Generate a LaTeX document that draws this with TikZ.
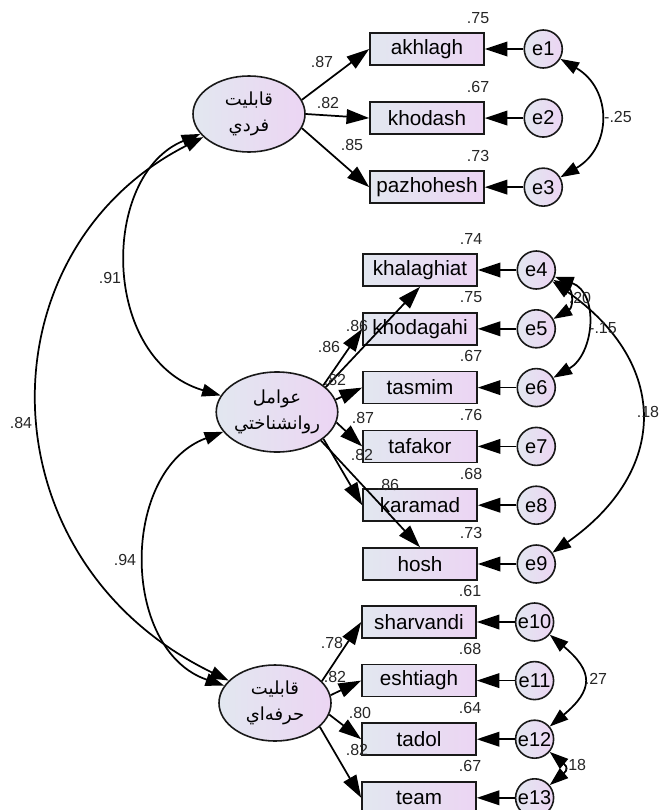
\documentclass[tikz,border=0pt]{standalone}
\usepackage{fontspec}
\setmainfont{Liberation Sans}
\newfontfamily\arabicfont[Script=Arabic]{DejaVu Sans}
\TeXXeTstate=1
\usepackage{xcolor}
\definecolor{fill_left}{RGB}{226,231,240}
\definecolor{fill_right}{RGB}{236,213,243}
\definecolor{edge_gray}{RGB}{25,25,25}
\usepackage{tikz}
\usetikzlibrary{positioning, shapes.geometric, arrows.meta}
\tikzstyle{latent} = [ellipse, draw=edge_gray, line width=1.2pt, left color=fill_left, right color=fill_right,
                    minimum width=84pt, minimum height=57pt, inner sep=0pt, align=center,
                    font=\arabicfont\fontsize{13.5pt}{19pt}\selectfont]
\tikzstyle{observed} = [rectangle, draw=edge_gray, line width=1.2pt, left color=fill_left, right color=fill_right,
                    minimum width=85.5pt, minimum height=24pt, inner sep=0pt, font=\fontsize{15.5pt}{18pt}\selectfont]
\tikzstyle{error} = [circle, draw=edge_gray, line width=1.2pt, left color=fill_left, right color=fill_right,
                    minimum size=28.5pt, inner sep=0pt, font=\fontsize{15pt}{18pt}\selectfont]
\tikzstyle{coef} = [inner sep=0pt, text=black!85, font=\fontsize{12pt}{14pt}\selectfont]
\tikzstyle{arrow} = [line width=1.3pt, black, -{Triangle[length=17pt,width=11pt]}]
\tikzstyle{covar} = [line width=1.3pt, black, {Triangle[length=14pt,width=9.5pt]}-{Triangle[length=14pt,width=9.5pt]}]

\begin{document}
\begin{tikzpicture}[x=0.75pt, y=-0.75pt]

    \useasboundingbox (0,0) rectangle (663,810);

    % latent variables
    \node[latent] (fardi) at (249,114) {\beginR قابليت\endR\\\beginR فردي\endR};
    \node[latent, minimum height=60pt] (ravan) at (277,412) {\beginR عوامل\endR\\\beginR روانشناختي\endR};
    \node[latent] (herfe) at (275,703) {\beginR قابليت\endR\\\beginR حرفه‌اي\endR};

    % observed variables
    \node[observed] (akhlagh) at (427,49) {akhlagh};
    \node[observed] (khodash) [below=26.6pt of akhlagh] {khodash};
    \node[observed] (pazhohesh) [below=26.6pt of khodash] {pazhohesh};

    \node[observed] (khalaghiat) at (420,270) {khalaghiat};
    \node[observed] (khodagahi) [below=18.9pt of khalaghiat] {khodagahi};
    \node[observed] (tasmim) [below=18.9pt of khodagahi] {tasmim};
    \node[observed] (tafakor) [below=18.9pt of tasmim] {tafakor};
    \node[observed] (karamad) [below=18.9pt of tafakor] {karamad};
    \node[observed] (hosh) [below=18.9pt of karamad] {hosh};

    \node[observed] (sharvandi) at (419,622) {sharvandi};
    \node[observed] (eshtiagh) [below=18.75pt of sharvandi] {eshtiagh};
    \node[observed] (tadol) [below=18.75pt of eshtiagh] {tadol};
    \node[observed] (team) [below=18.75pt of tadol] {team};

    % error terms
    \node[error] (e1) [right=29pt of akhlagh] {e1};
    \node[error] (e2) [right=29pt of khodash] {e2};
    \node[error] (e3) [right=29pt of pazhohesh] {e3};
    \node[error] (e4) [right=29pt of khalaghiat] {e4};
    \node[error] (e5) [right=29pt of khodagahi] {e5};
    \node[error] (e6) [right=29pt of tasmim] {e6};
    \node[error] (e7) [right=29pt of tafakor] {e7};
    \node[error] (e8) [right=29pt of karamad] {e8};
    \node[error] (e9) [right=29pt of hosh] {e9};
    \node[error] (e10) [right=28.5pt of sharvandi] {e10};
    \node[error] (e11) [right=28.5pt of eshtiagh] {e11};
    \node[error] (e12) [right=28.5pt of tadol] {e12};
    \node[error] (e13) [right=28.5pt of team] {e13};

    % squared multiple correlations
    \node[coef] (r1) [above left=6.5pt and -3.5pt of akhlagh.north east] {.75};
    \node[coef] (r2) [above left=6.5pt and -3.5pt of khodash.north east] {.67};
    \node[coef] (r3) [above left=6.5pt and -3.5pt of pazhohesh.north east] {.73};
    \node[coef] (r4) [above left=6.5pt and -3.5pt of khalaghiat.north east] {.74};
    \node[coef] (r5) [above left=6.5pt and -3.5pt of khodagahi.north east] {.75};
    \node[coef] (r6) [above left=6.5pt and -3.5pt of tasmim.north east] {.67};
    \node[coef] (r7) [above left=6.5pt and -3.5pt of tafakor.north east] {.76};
    \node[coef] (r8) [above left=6.5pt and -3.5pt of karamad.north east] {.68};
    \node[coef] (r9) [above left=6.5pt and -3.5pt of hosh.north east] {.73};
    \node[coef] (r10) [above left=6.5pt and -3.5pt of sharvandi.north east] {.61};
    \node[coef] (r11) [above left=6.5pt and -3.5pt of eshtiagh.north east] {.68};
    \node[coef] (r12) [above left=6.5pt and -3.5pt of tadol.north east] {.64};
    \node[coef] (r13) [above left=6.5pt and -3.5pt of team.north east] {.67};

    % errors to indicators
    \foreach \e/\v in {e1/akhlagh, e2/khodash, e3/pazhohesh, e4/khalaghiat, e5/khodagahi, e6/tasmim,
                       e7/tafakor, e8/karamad, e9/hosh, e10/sharvandi, e11/eshtiagh, e12/tadol, e13/team}
        \draw[arrow] (\e) to (\v);

    % loadings
    \draw[arrow] (fardi.15) to (akhlagh.west);
    \draw[arrow] (fardi.east) to (khodash.west);
    \draw[arrow] (fardi.-15) to (pazhohesh.west);

    \draw[arrow] (ravan.27) to (khalaghiat.south);
    \draw[arrow] (ravan.30) to (khodagahi.west);
    \draw[arrow] (ravan.12) to (tasmim.west);
    \draw[arrow] (ravan.-10) to (tafakor.west);
    \draw[arrow] (ravan.-30) to (karamad.west);
    \draw[arrow] (ravan.-33) to (hosh.north);

    \draw[arrow] (herfe.25) to (sharvandi.west);
    \draw[arrow] (herfe.8) to (eshtiagh.west);
    \draw[arrow] (herfe.-12) to (tadol.west);
    \draw[arrow] (herfe.-28) to (team.west);

    \node[coef] (l1) at (322,62) {.87};
    \node[coef] (l2) at (328,103) {.82};
    \node[coef] (l3) at (352,145) {.85};
    \node[coef] (l4) at (357,326) {.86};
    \node[coef] (l5) at (329,347) {.86};
    \node[coef] (l6) at (335,380) {.82};
    \node[coef] (l7) at (363,418) {.87};
    \node[coef] (l8) at (362,455) {.82};
    \node[coef] (l9) at (388,485) {.86};
    \node[coef] (l10) at (332,643) {.78};
    \node[coef] (l11) at (335,677) {.82};
    \node[coef] (l12) at (360,713) {.80};
    \node[coef] (l13) at (357,750) {.82};

    % correlations between factors
    \draw[covar] (fardi) .. controls (-20,250) and (-20,560) .. (herfe);
    \draw[covar] (fardi) .. controls (100,175) and (100,360) .. (ravan);
    \draw[covar] (ravan) .. controls (120,470) and (120,650) .. (herfe);
    \node[coef] (k1) at (110,278) {.91};
    \node[coef] (k2) at (21,423) {.84};
    \node[coef] (k3) at (125,560) {.94};

    % error covariances
    \draw[covar] (e1) to[out=-30, in=30, looseness=1.3] (e3);
    \draw[covar] (e4) to[out=-30, in=30, looseness=1.5] (e5);
    \draw[covar] (e4) to[out=-20, in=30, looseness=1.2] (e6);
    \draw[covar] (e4) to[out=-35, in=35, looseness=1.35] (e9);
    \draw[covar] (e10) to[out=-40, in=40, looseness=1.6] (e12);
    \draw[covar] (e12) to[out=-40, in=40, looseness=1.8] (e13);
    \node[coef] (m1) at (618,117) {-.25};
    \node[coef] (m2) at (580,298) {.20};
    \node[coef] (m3) at (603,328) {-.15};
    \node[coef] (m4) at (648,412) {.18};
    \node[coef] (m5) at (596,679) {.27};
    \node[coef] (m6) at (575,765) {.18};

\end{tikzpicture}
\end{document}
